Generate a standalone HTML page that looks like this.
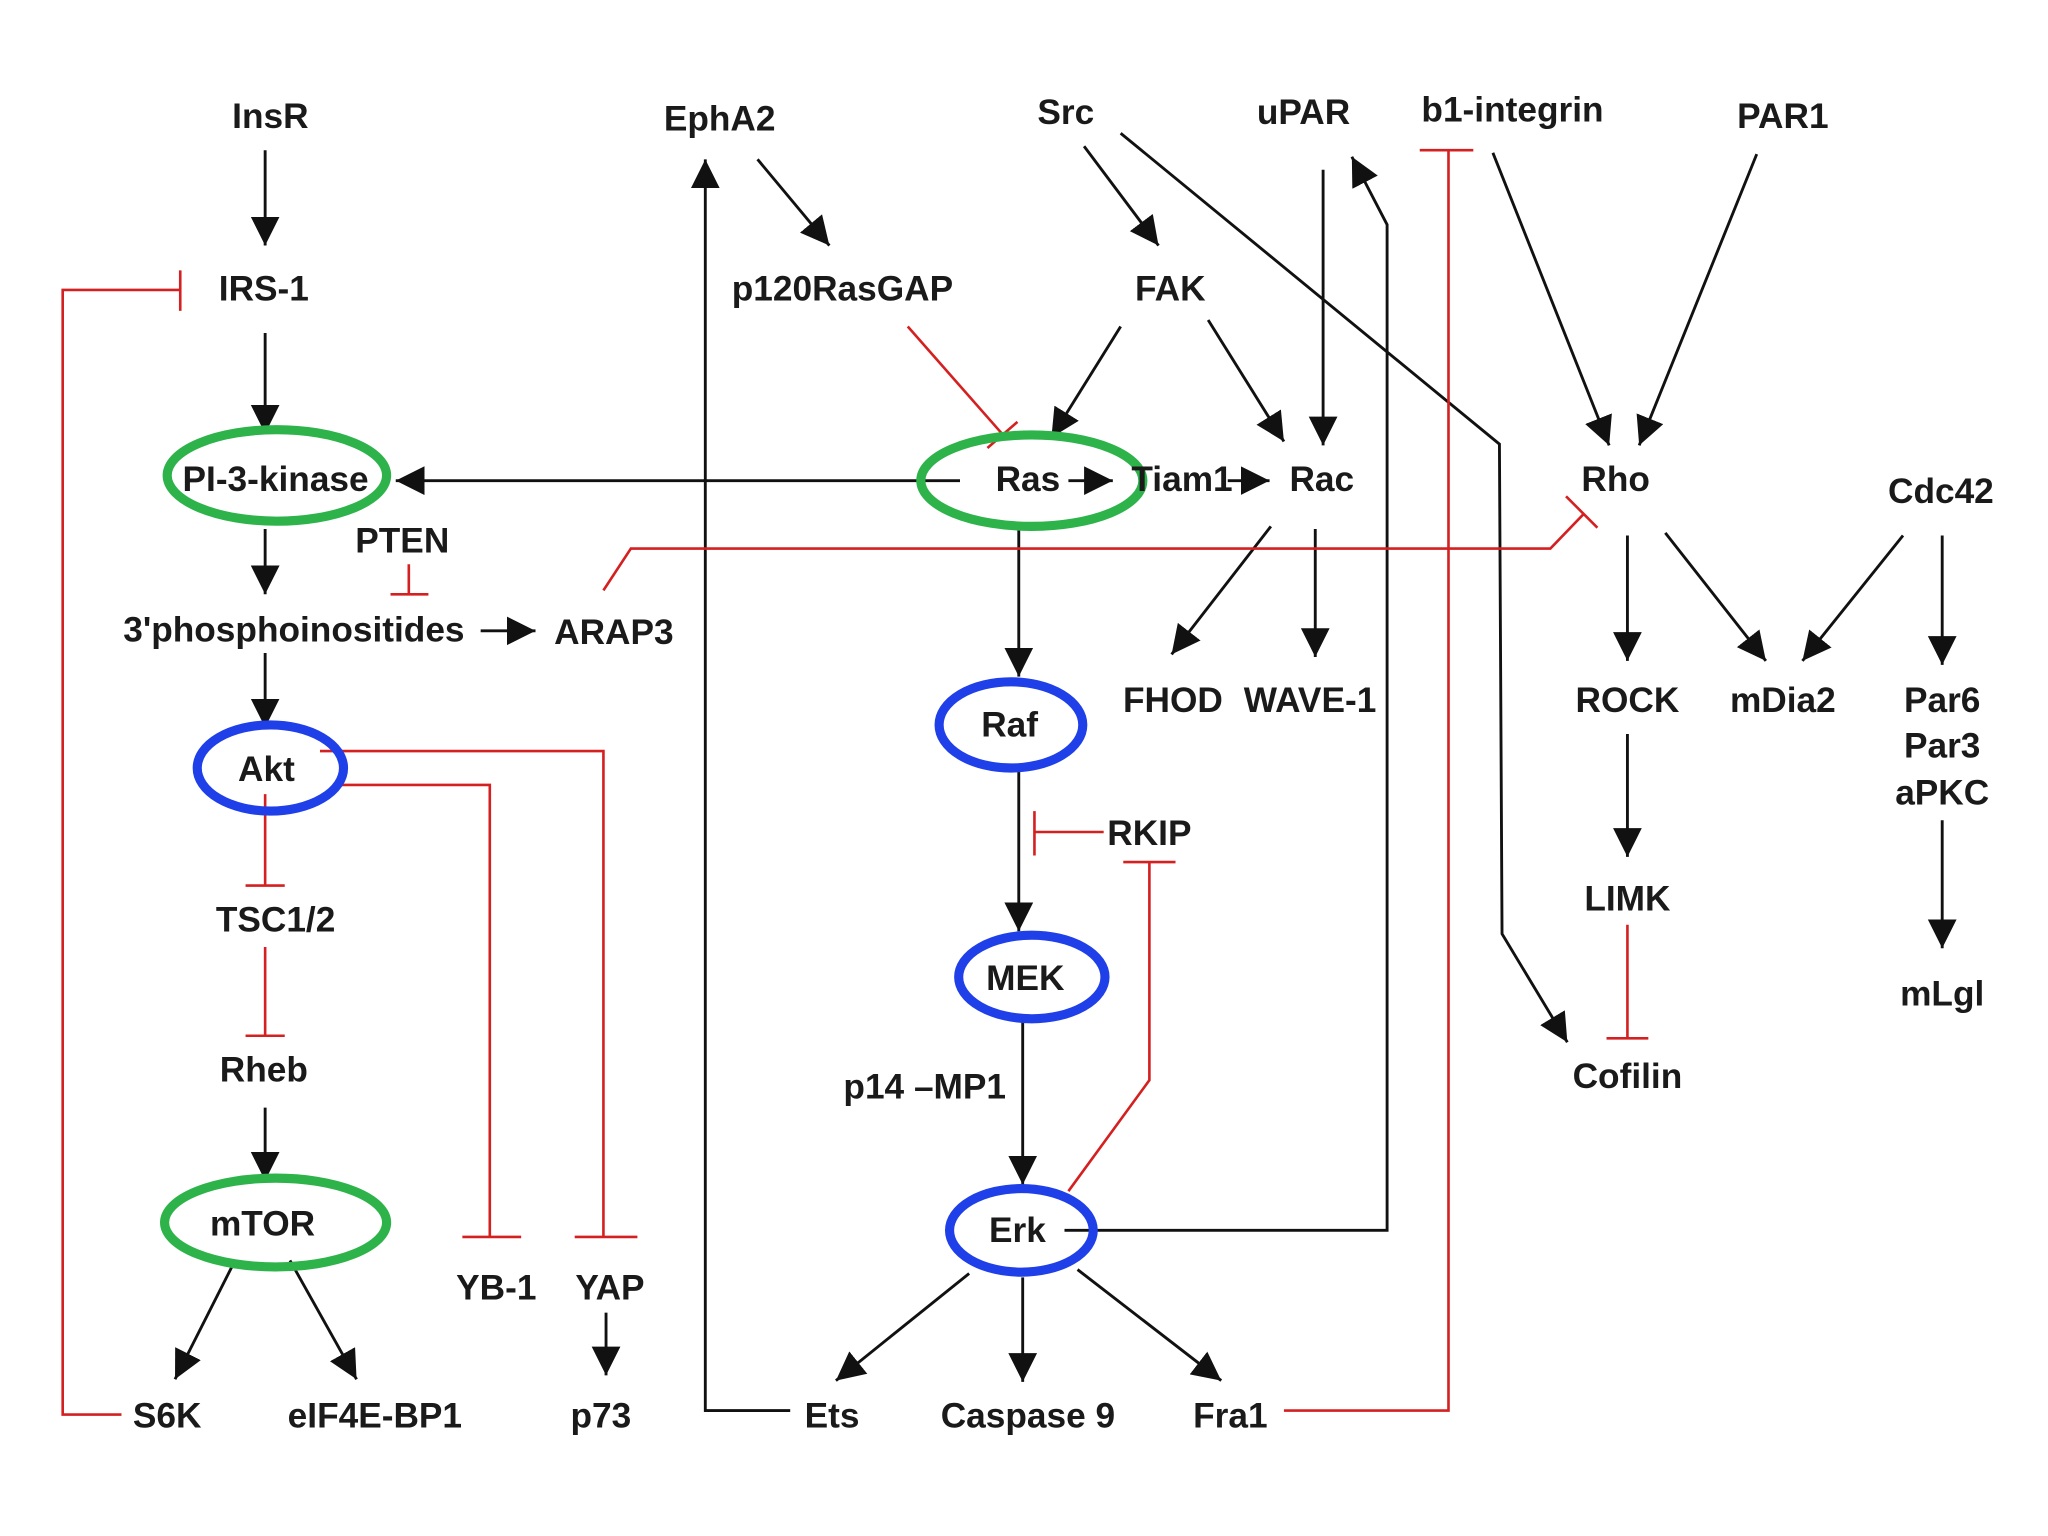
<!DOCTYPE html>
<html><head><meta charset="utf-8"><style>
html,body{margin:0;padding:0;background:#fff;}
svg{display:block;}
text{font-family:"Liberation Sans",sans-serif;font-weight:bold;font-size:27px;fill:#1a1a1a;text-anchor:middle;}
.k{stroke:#111;stroke-width:2.2;fill:none;}
.r{stroke:#d42020;stroke-width:2;fill:none;}
.g{stroke:#2db34a;stroke-width:7;fill:none;}
.b{stroke:#1f3fe8;stroke-width:7;fill:none;}
</style></head><body>
<svg width="2048" height="1536" viewBox="0 0 1568 1176" xmlns="http://www.w3.org/2000/svg">
<defs>
<marker id="a" markerUnits="userSpaceOnUse" markerWidth="26" markerHeight="24" refX="22" refY="11" orient="auto">
<path d="M0,0 L22,11 L0,22 Z" fill="#111"/></marker>
</defs>
<rect width="1568" height="1176" fill="#fff"/>
<!-- black arrows -->
<g class="k" marker-end="url(#a)">
<line x1="203" y1="115" x2="203" y2="188"/>
<line x1="203" y1="255" x2="203" y2="332"/>
<line x1="735" y1="368" x2="303" y2="368"/>
<line x1="203" y1="405" x2="203" y2="455"/>
<line x1="368" y1="483" x2="410" y2="483"/>
<line x1="203" y1="500" x2="203" y2="557"/>
<line x1="203" y1="848" x2="203" y2="904"/>
<line x1="180" y1="965" x2="134" y2="1056"/>
<line x1="222" y1="965" x2="273" y2="1056"/>
<line x1="464" y1="1005" x2="464" y2="1053"/>
<line x1="580" y1="122" x2="635" y2="188"/>
<polyline points="605,1080 540,1080 540,122"/>
<line x1="830" y1="112" x2="887" y2="188"/>
<polyline points="858,102 1148,340 1150,715 1200,798"/>
<line x1="858" y1="250" x2="805" y2="335"/>
<line x1="925" y1="245" x2="983" y2="338"/>
<line x1="1013" y1="130" x2="1013" y2="341"/>
<polyline points="815,942 1062,942 1062,172 1035,120"/>
<line x1="818" y1="368" x2="852" y2="368"/>
<line x1="940" y1="368" x2="972" y2="368"/>
<line x1="973" y1="403" x2="897" y2="501"/>
<line x1="1007" y1="405" x2="1007" y2="503"/>
<line x1="1143" y1="117" x2="1232" y2="341"/>
<line x1="1345" y1="118" x2="1255" y2="341"/>
<line x1="1246" y1="410" x2="1246" y2="506"/>
<line x1="1275" y1="408" x2="1352" y2="506"/>
<line x1="1457" y1="410" x2="1380" y2="506"/>
<line x1="1487" y1="410" x2="1487" y2="509"/>
<line x1="1487" y1="628" x2="1487" y2="726"/>
<line x1="1246" y1="562" x2="1246" y2="656"/>
<line x1="780" y1="402" x2="780" y2="518"/>
<line x1="780" y1="590" x2="780" y2="713"/>
<line x1="783" y1="782" x2="783" y2="907"/>
<line x1="742" y1="975" x2="640" y2="1057"/>
<line x1="783" y1="978" x2="783" y2="1058"/>
<line x1="825" y1="972" x2="935" y2="1057"/>
</g>
<!-- red inhibitions -->
<g class="r">
<polyline points="93,1083 48,1083 48,222 138,222"/><line x1="138" y1="207" x2="138" y2="238"/>
<line x1="695" y1="250" x2="768" y2="333"/><line x1="756" y1="343" x2="779" y2="323"/>
<line x1="313" y1="432" x2="313" y2="455"/><line x1="299" y1="455" x2="328" y2="455"/>
<polyline points="462,452 483,420 1187,420 1213,393"/><line x1="1199" y1="380" x2="1223" y2="404"/>
<line x1="203" y1="608" x2="203" y2="678"/><line x1="188" y1="678" x2="218" y2="678"/>
<line x1="203" y1="725" x2="203" y2="793"/><line x1="188" y1="793" x2="218" y2="793"/>
<polyline points="260,601 375,601 375,947"/><line x1="354" y1="947" x2="399" y2="947"/>
<polyline points="245,575 462,575 462,947"/><line x1="440" y1="947" x2="488" y2="947"/>
<line x1="845" y1="637" x2="792" y2="637"/><line x1="792" y1="621" x2="792" y2="655"/>
<polyline points="818,912 880,827 880,660"/><line x1="860" y1="660" x2="900" y2="660"/>
<polyline points="983,1080 1109,1080 1109,115"/><line x1="1087" y1="115" x2="1128" y2="115"/>
<line x1="1246" y1="708" x2="1246" y2="795"/><line x1="1230" y1="795" x2="1262" y2="795"/>
</g>
<!-- ellipses -->
<ellipse class="g" cx="212" cy="364" rx="84" ry="35"/>
<ellipse class="g" cx="790" cy="368" rx="85" ry="35"/>
<ellipse class="g" cx="211" cy="936" rx="85" ry="34"/>
<ellipse class="b" cx="207" cy="588" rx="56" ry="33"/>
<ellipse class="b" cx="774" cy="555" rx="55" ry="33"/>
<ellipse class="b" cx="790" cy="748" rx="56" ry="32"/>
<ellipse class="b" cx="782" cy="942" rx="55" ry="32"/>
<!-- labels -->
<g>
<text x="207" y="98">InsR</text>
<text x="551" y="100">EphA2</text>
<text x="816" y="95">Src</text>
<text x="998" y="95">uPAR</text>
<text x="1158" y="93">b1-integrin</text>
<text x="1365" y="98">PAR1</text>
<text x="202" y="230">IRS-1</text>
<text x="645" y="230">p120RasGAP</text>
<text x="896" y="230">FAK</text>
<text x="211" y="376">PI-3-kinase</text>
<text x="787" y="376">Ras</text>
<text x="905" y="376">Tiam1</text>
<text x="1012" y="376">Rac</text>
<text x="1237" y="376">Rho</text>
<text x="1486" y="385">Cdc42</text>
<text x="308" y="423">PTEN</text>
<text x="225" y="491">3'phosphoinositides</text>
<text x="470" y="493">ARAP3</text>
<text x="773" y="564">Raf</text>
<text x="898" y="545">FHOD</text>
<text x="1003" y="545">WAVE-1</text>
<text x="1246" y="545">ROCK</text>
<text x="1365" y="545">mDia2</text>
<text x="1487" y="545">Par6</text>
<text x="1487" y="580">Par3</text>
<text x="1487" y="616">aPKC</text>
<text x="204" y="598">Akt</text>
<text x="880" y="647">RKIP</text>
<text x="1246" y="697">LIMK</text>
<text x="211" y="713">TSC1/2</text>
<text x="785" y="758">MEK</text>
<text x="1487" y="770">mLgl</text>
<text x="202" y="828">Rheb</text>
<text x="708" y="841">p14 –MP1</text>
<text x="1246" y="833">Cofilin</text>
<text x="201" y="946">mTOR</text>
<text x="779" y="951">Erk</text>
<text x="380" y="995">YB-1</text>
<text x="467" y="995">YAP</text>
<text x="128" y="1093">S6K</text>
<text x="287" y="1093">eIF4E-BP1</text>
<text x="460" y="1093">p73</text>
<text x="637" y="1093">Ets</text>
<text x="787" y="1093">Caspase 9</text>
<text x="942" y="1093">Fra1</text>
</g>
</svg>
</body></html>
